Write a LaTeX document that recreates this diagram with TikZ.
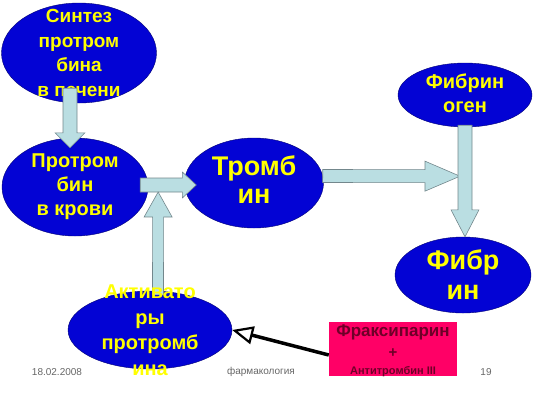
\documentclass[tikz,border=0pt]{standalone}
\usepackage{fontspec}
\setmainfont{Liberation Sans}
\usetikzlibrary{shapes.geometric}
\usetikzlibrary{calc}
\usetikzlibrary{arrows.meta}
\definecolor{blobblue}{RGB}{3,3,212}
\definecolor{blobtext}{RGB}{255,255,0}
\definecolor{arrowfill}{RGB}{186,222,226}
\definecolor{arrowline}{RGB}{115,135,140}
\definecolor{fraxred}{RGB}{255,0,102}
\definecolor{fraxtext}{RGB}{110,0,40}
\tikzset{
  blob/.style={ellipse, draw=blobblue!55!black, fill=blobblue, inner sep=0pt},
  blobtxt/.style={align=center, text=blobtext, inner sep=0pt},
  blockarrow/.style={draw=arrowline, fill=arrowfill, line width=0.6pt},
  footer/.style={text=black!60, font=\fontsize{10}{12}\selectfont, inner sep=0pt},
}
% [shaft half-width] start, tip, head half-width, head length
\newcommand{\blockarrow}[5][7pt]{%
  \coordinate (hb) at ($(#3)!#5!(#2)$);
  \draw[blockarrow] ($(#2)!#1!90:(#3)$) -- ($(hb)!#1!90:(#3)$) -- ($(hb)!#4!90:(#3)$) -- (#3)
    -- ($(hb)!#4!-90:(#3)$) -- ($(hb)!#1!-90:(#3)$) -- ($(#2)!#1!-90:(#3)$) -- cycle;}

\begin{document}
\begin{tikzpicture}[x=1pt,y=-1pt]
        \useasboundingbox (0,0) rectangle (533,400);
        % ellipses
        \node [blob, minimum width=155pt, minimum height=100pt] (synth) at (79,53) {};
        \node [blob, minimum width=146pt, minimum height=98pt] (proth) at (75,187) {};
        \node [blob, minimum width=139pt, minimum height=90pt] (thromb) at (254,183) {};
        \node [blob, minimum width=134pt, minimum height=64pt] (fgen) at (465,95) {};
        \node [blob, minimum width=136pt, minimum height=76pt] (fibrin) at (463,275) {};
        \node [blob, minimum width=164pt, minimum height=78pt] (activ) at (150,330) {};
        \node [blobtxt, font=\bfseries\fontsize{19}{24.5}\selectfont] (synthtxt) at (synth) {Синтез\\протром\\бина\\в печени};
        % block arrows
        \coordinate (s1) at ($(synth.south)+(-9,-15)$);
        \coordinate (t1) at ($(proth.north)+(-5,10)$);
        \blockarrow{s1}{t1}{15pt}{15pt}
        \coordinate (s2) at ($(proth.east)+(-8,-2)$);
        \coordinate (t2) at ($(thromb.west)+(12,2)$);
        \blockarrow{s2}{t2}{13pt}{14pt}
        \coordinate (jct) at ($(s2)!0.32!(t2)+(0,7)$);
        \coordinate (s3) at ($(activ.north)+(8,4)$);
        \blockarrow[5.5pt]{s3}{jct}{14pt}{25pt}
        \coordinate (s4) at ($(thromb.east)+(-1,-7)$);
        \coordinate (fjct) at ($(fgen.south)+(-5,49)$);
        \blockarrow[6.5pt]{s4}{fjct}{15pt}{35pt}
        \coordinate (s5) at ($(fgen.south)+(0,-2)$);
        \coordinate (t5) at (s5 |- fibrin.north);
        \blockarrow{s5}{t5}{14pt}{27pt}
        % texts
        \node [blobtxt, font=\bfseries\fontsize{20}{24}\selectfont] (prothtxt) at (proth) {Протром\\бин\\в крови};
        \node [blobtxt, font=\bfseries\fontsize{27}{28}\selectfont] (thrombtxt) at ($(thromb)+(0,-3)$) {Тромб\\ин};
        \node [blobtxt, font=\bfseries\fontsize{20}{24}\selectfont] (fgentxt) at ($(fgen)+(0,-2)$) {Фибрин\\оген};
        \node [blobtxt, font=\bfseries\fontsize{27}{30}\selectfont] (fibrintxt) at (fibrin) {Фибр\\ин};
        \node [blobtxt, font=\bfseries\fontsize{20}{25.5}\selectfont] (activtxt) at (activ) {Активато\\ры\\протромб\\ина};
        % inhibitor
        \node [fill=fraxred, minimum width=128pt, minimum height=54pt, inner sep=0pt] (frax) at (393,349) {};
        \node [align=center, text=fraxtext, font=\bfseries, inner sep=0pt] (fraxtxt) at ($(frax)+(0,2)$)
          {{\fontsize{17}{20}\selectfont Фраксипарин}\\[8pt]{\fontsize{15}{16}\selectfont +}\\[5pt]{\fontsize{11}{13}\selectfont Антитромбин III}};
        \draw [line width=3.5pt, -{Triangle[length=21pt, width=18pt, fill=white, line width=2.2pt]}] ([yshift=-6pt]frax.west) -- (activ.east);
        % footer
        \node [footer] (date) at (57,372) {18.02.2008};
        \node [footer] (subj) at (261,372) {фармакология};
        \node [footer] (page) at (486,372) {19};
    \end{tikzpicture}
\end{document}
